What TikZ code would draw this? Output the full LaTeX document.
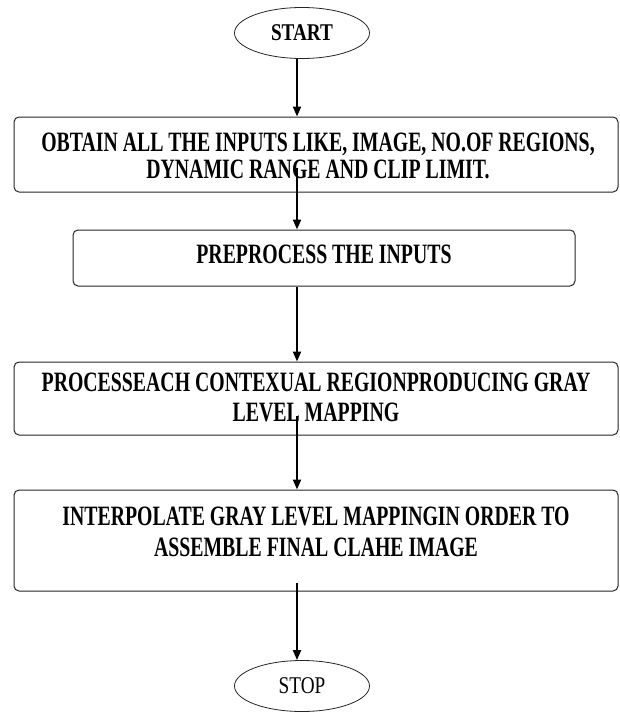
\documentclass[tikz,border=0pt]{standalone}
\usepackage{fontspec}
\setmainfont{Liberation Serif}
\newfontfamily\boxfont{Liberation Serif}[FakeStretch=0.707]
\newfontfamily\endfont{Liberation Serif}[FakeStretch=0.8]
\usetikzlibrary{shapes.geometric,arrows.meta,calc}
\begin{document}
\begin{tikzpicture}[x=1pt,y=-1pt,
  box/.style={draw=black!85, line width=1pt, rounded corners=5pt, inner sep=0pt},
  term/.style={draw=black!85, ellipse, line width=0.8pt, inner sep=0pt, minimum width=135pt, minimum height=51pt},
  arr/.style={line width=2pt, -{Triangle[length=10pt,width=8pt]}},
  txt/.style={align=center, inner sep=0pt, font=\boxfont\bfseries\fontsize{28}{27}\selectfont},
  endtxt/.style={font=\endfont\fontsize{24}{24}\selectfont}]
\useasboundingbox (0,0) rectangle (619,712);
\fill[white] (0,0) rectangle (619,712);

\node[term, endtxt] (start) at (302,33) {\bfseries START};
\node[box, minimum width=604pt, minimum height=75pt] (b1) at (316,154.5) {};
\node[box, minimum width=502pt, minimum height=56pt] (b2) at (324,258) {};
\node[box, minimum width=604pt, minimum height=73pt] (b3) at (316,398.5) {};
\node[box, minimum width=604pt, minimum height=101pt] (b4) at (316,540.5) {};
\node[term, endtxt] (stop) at (302,686) {STOP};

\node[txt] (t1) at (318,155.5) {OBTAIN ALL THE INPUTS LIKE, IMAGE, NO.OF REGIONS,\\DYNAMIC RANGE AND CLIP LIMIT.};
\node[txt] (t2) at (324,254) {PREPROCESS THE INPUTS};
\node[txt, font=\boxfont\bfseries\fontsize{28}{30}\selectfont] (t3) at (316,397.5) {PROCESSEACH CONTEXUAL REGIONPRODUCING GRAY\\LEVEL MAPPING};
\node[txt, font=\boxfont\bfseries\fontsize{28}{31}\selectfont] (t4) at (316,532) {INTERPOLATE GRAY LEVEL MAPPINGIN ORDER TO\\ASSEMBLE FINAL CLAHE IMAGE};

\coordinate (ax) at (297,0);
\draw[arr] (start.south -| ax) -- (b1.north -| ax);
\draw[arr] ($(b1.south -| ax)+(0,-25)$) -- (b2.north -| ax);
\draw[arr] (b2.south -| ax) -- (b3.north -| ax);
\draw[arr] ($(b3.south -| ax)+(0,-20)$) -- (b4.north -| ax);
\draw[arr] ($(b4.south -| ax)+(0,-9)$) -- (stop.north -| ax);
\end{tikzpicture}
\end{document}
